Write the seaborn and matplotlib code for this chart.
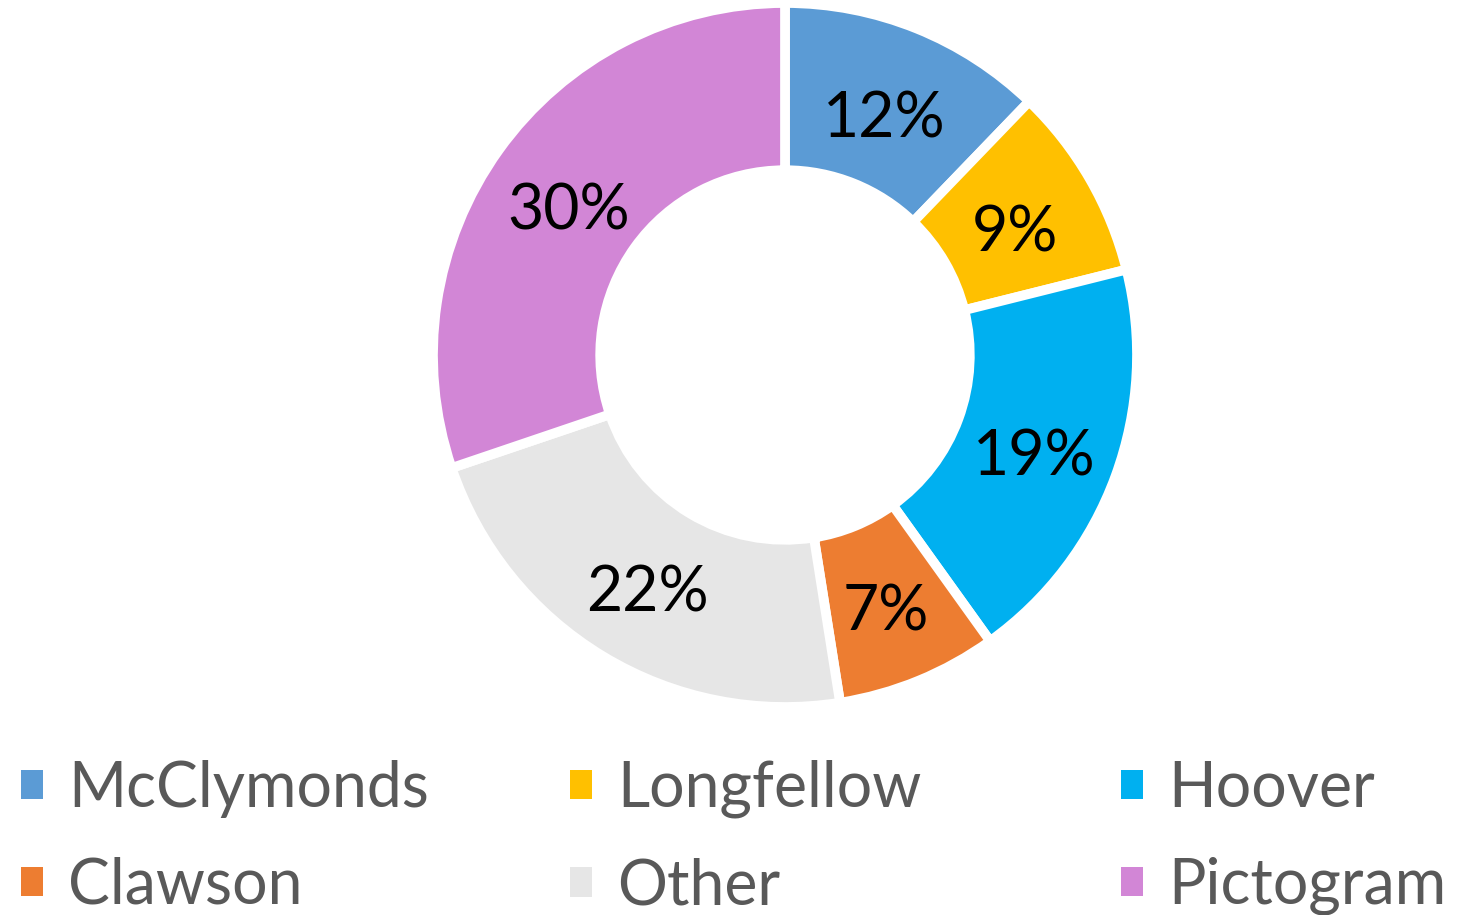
import matplotlib
matplotlib.use("Agg")
import matplotlib.pyplot as plt
import seaborn as sns
from matplotlib.patches import Patch

categories = ["McClymonds", "Longfellow", "Hoover", "Clawson", "Other", "Pictogram"]
values = [12.2, 8.9, 19.0, 7.4, 22.3, 30.2]
colors = ["#5B9BD5", "#FFC000", "#00B0F0", "#ED7D31", "#E6E6E6", "#D286D6"]

sns.set_theme(style="white")
plt.rcParams['font.family'] = ['Lato', 'DejaVu Sans']
palette = sns.color_palette(colors)

W, H = 1475, 915
fig = plt.figure(figsize=(W / 100, H / 100), dpi=100)
ax = fig.add_axes([433 / W, (H - 707) / H, 704 / W, 704 / H])
wedges, texts, autotexts = ax.pie(
    values, colors=palette, startangle=90, counterclock=False,
    wedgeprops=dict(width=0.475, edgecolor='white', linewidth=7),
    autopct=lambda p: f"{round(p):.0f}%", pctdistance=0.755,
    textprops=dict(fontsize=45, color='black'))
for t in autotexts:
    x, y = t.get_position()
    t.set_position((x, y - 0.032))
ax.set_xlim(-1, 1)
ax.set_ylim(-1, 1)
ax.set_aspect('equal')
ax.axis('off')

# legend: three columns, each its own legend
col_x = [21, 570, 1121]
fs = 45
fs_px = fs * 100 / 72
for c in range(3):
    idx = [c, c + 3]
    handles = [Patch(facecolor=palette[i], edgecolor='none') for i in idx]
    labels = [categories[i] for i in idx]
    fig.legend(handles, labels, loc='upper left',
               bbox_to_anchor=(col_x[c] / W, (H - 760) / H),
               frameon=False, fontsize=fs, labelcolor='#595959',
               handlelength=22 / fs_px, handleheight=22 / fs_px,
               handletextpad=25 / fs_px, labelspacing=0.62,
               borderpad=0, borderaxespad=0)

fig.savefig("out.png", dpi=100)
